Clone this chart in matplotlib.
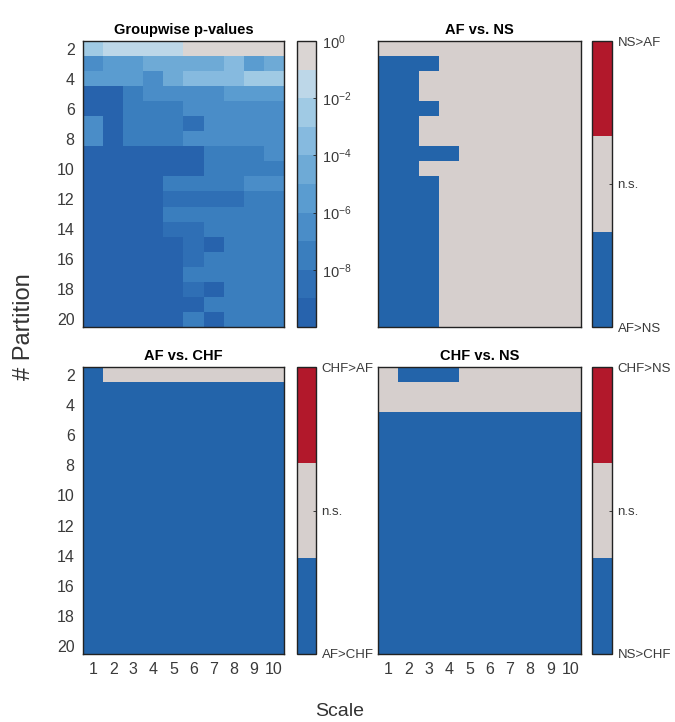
import numpy as np
import matplotlib; matplotlib.use("Agg")
import matplotlib.pyplot as plt
from matplotlib import font_manager as fm
from matplotlib.colors import ListedColormap


def pick(names):
    for n in names:
        try:
            fm.findfont(fm.FontProperties(family=n), fallback_to_default=False)
            return n
        except Exception:
            pass
    return "DejaVu Sans"


FONT = pick(["Liberation Sans Narrow", "Liberation Sans", "Roboto"])
REG = pick(["Liberation Sans", "DejaVu Sans"])
plt.rcParams["mathtext.fontset"] = "custom"
plt.rcParams["mathtext.rm"] = FONT
plt.rcParams["mathtext.it"] = FONT

partitions = list(range(2, 21))
scales = list(range(1, 11))

# log10 of groupwise p-values (rows = partitions 2..20, cols = scales 1..10)
groupwise_log10p = [
    [-2.5, -1.5, -1.5, -1.5, -1.5, -0.5, -0.5, -0.5, -0.5, -0.5],
    [-6.5, -5.5, -5.5, -4.5, -4.5, -4.5, -4.5, -3.5, -5.5, -4.5],
    [-5.5, -5.5, -5.5, -6.5, -4.5, -3.5, -3.5, -3.5, -2.5, -2.5],
    [-9.5, -9.5, -7.5, -6.5, -6.5, -6.5, -6.5, -5.5, -5.5, -5.5],
    [-9.5, -9.5, -7.5, -7.5, -7.5, -6.5, -6.5, -6.5, -6.5, -6.5],
    [-6.5, -9.5, -7.5, -7.5, -7.5, -8.5, -6.5, -6.5, -6.5, -6.5],
    [-6.5, -9.5, -7.5, -7.5, -7.5, -6.5, -6.5, -6.5, -6.5, -6.5],
    [-9.5, -9.5, -9.5, -9.5, -9.5, -9.5, -7.5, -7.5, -7.5, -6.5],
    [-9.5, -9.5, -9.5, -9.5, -9.5, -9.5, -7.5, -7.5, -7.5, -7.5],
    [-9.5, -9.5, -9.5, -9.5, -7.5, -7.5, -7.5, -7.5, -6.5, -6.5],
    [-9.5, -9.5, -9.5, -9.5, -8.5, -8.5, -8.5, -8.5, -7.5, -7.5],
    [-9.5, -9.5, -9.5, -9.5, -7.5, -7.5, -7.5, -7.5, -7.5, -7.5],
    [-9.5, -9.5, -9.5, -9.5, -8.5, -8.5, -7.5, -7.5, -7.5, -7.5],
    [-9.5, -9.5, -9.5, -9.5, -9.5, -8.5, -9.5, -7.5, -7.5, -7.5],
    [-9.5, -9.5, -9.5, -9.5, -9.5, -8.5, -7.5, -7.5, -7.5, -7.5],
    [-9.5, -9.5, -9.5, -9.5, -9.5, -7.5, -7.5, -7.5, -7.5, -7.5],
    [-9.5, -9.5, -9.5, -9.5, -9.5, -8.5, -9.5, -7.5, -7.5, -7.5],
    [-9.5, -9.5, -9.5, -9.5, -9.5, -9.5, -7.5, -7.5, -7.5, -7.5],
    [-9.5, -9.5, -9.5, -9.5, -9.5, -7.5, -9.5, -7.5, -7.5, -7.5],
]

# -1 = first group greater, 0 = n.s., 1 = second group greater
af_vs_ns = [
    [0, 0, 0, 0, 0, 0, 0, 0, 0, 0],
    [-1, -1, -1, 0, 0, 0, 0, 0, 0, 0],
    [-1, -1, 0, 0, 0, 0, 0, 0, 0, 0],
    [-1, -1, 0, 0, 0, 0, 0, 0, 0, 0],
    [-1, -1, -1, 0, 0, 0, 0, 0, 0, 0],
    [-1, -1, 0, 0, 0, 0, 0, 0, 0, 0],
    [-1, -1, 0, 0, 0, 0, 0, 0, 0, 0],
    [-1, -1, -1, -1, 0, 0, 0, 0, 0, 0],
    [-1, -1, 0, 0, 0, 0, 0, 0, 0, 0],
] + [[-1, -1, -1, 0, 0, 0, 0, 0, 0, 0]] * 10

af_vs_chf = [[-1, 0, 0, 0, 0, 0, 0, 0, 0, 0]] + [[-1] * 10] * 18

chf_vs_ns = [
    [0, -1, -1, -1, 0, 0, 0, 0, 0, 0],
    [0] * 10,
    [0] * 10,
] + [[-1] * 10] * 16

pval_colors = ["#2763ad", "#2f6fb5", "#3a7ebe", "#4a8dc8", "#5a9cd0",
               "#6eaad6", "#86badf", "#a0cae4", "#bdd7e8", "#dad5d3"]
cat_colors = ["#2364aa", "#d6cfcd", "#b2182b"]

W, H = 675, 722
fig = plt.figure(figsize=(W / 100, H / 100), dpi=100)


def box(x0, y0, x1, y1):
    return [x0 / W, 1 - y1 / H, (x1 - x0) / W, (y1 - y0) / H]


panels = [
    ("Groupwise p-values", groupwise_log10p, box(83, 41, 284, 327), box(297, 41, 316, 327), None),
    ("AF vs. NS", af_vs_ns, box(378, 41, 581, 327), box(592, 41, 612, 327), ["AF>NS", "n.s.", "NS>AF"]),
    ("AF vs. CHF", af_vs_chf, box(83, 367, 284, 654), box(297, 367, 316, 654), ["AF>CHF", "n.s.", "CHF>AF"]),
    ("CHF vs. NS", chf_vs_ns, box(378, 367, 581, 654), box(592, 367, 612, 654), ["NS>CHF", "n.s.", "CHF>NS"]),
]

tick_col = "#3a3a3a"
for i, (title, data, rect, crect, labels) in enumerate(panels):
    ax = fig.add_axes(rect)
    cax = fig.add_axes(crect)
    arr = np.array(data, dtype=float)
    ext = (scales[0] - 0.5, scales[-1] + 0.5, partitions[-1] + 0.5, partitions[0] - 0.5)
    if labels is None:
        im = ax.imshow(arr, cmap=ListedColormap(pval_colors), vmin=-10, vmax=0,
                       extent=ext, aspect="auto", interpolation="nearest")
        cb = fig.colorbar(im, cax=cax)
        exps = [-8, -6, -4, -2, 0]
        cb.set_ticks(exps)
        cb.set_ticklabels([r"$\mathregular{10^{%d}}$" % t for t in exps])
        lsize = 10.5
    else:
        im = ax.imshow(arr, cmap=ListedColormap(cat_colors), vmin=-1, vmax=1,
                       extent=ext, aspect="auto", interpolation="nearest")
        cb = fig.colorbar(im, cax=cax)
        cb.set_ticks([-1, 0, 1])
        cb.set_ticklabels(labels)
        lsize = 9.5
    cb.outline.set_edgecolor("#222222")
    cb.outline.set_linewidth(1.0)
    cax.tick_params(axis="y", direction="in", length=2, width=0.6, pad=4,
                    labelsize=lsize, labelcolor=tick_col, color="#222222")
    for t in cax.get_yticklabels():
        t.set_family(FONT)
    ax.set_title(title, fontsize=10.5, fontweight="bold", family=FONT, pad=5)
    for s in ax.spines.values():
        s.set_edgecolor("#222222")
        s.set_linewidth(1.0)
    ax.set_xticks(scales)
    ax.set_yticks(list(range(2, 21, 2)))
    ax.tick_params(length=0, labelsize=11.5, labelcolor=tick_col, pad=6)
    if i % 2 == 1:
        ax.set_yticklabels([])
    if i < 2:
        ax.set_xticklabels([])
    for t in ax.get_xticklabels() + ax.get_yticklabels():
        t.set_family(FONT)

fig.text(24 / W, 1 - 327 / H, "# Partition", rotation=90, ha="center", va="center",
         fontsize=17, family=REG, color="#333333")
fig.text(340 / W, 1 - 711 / H, "Scale", ha="center", va="center",
         fontsize=14, family=FONT, color="#333333")

fig.savefig("out.png", dpi=100)
